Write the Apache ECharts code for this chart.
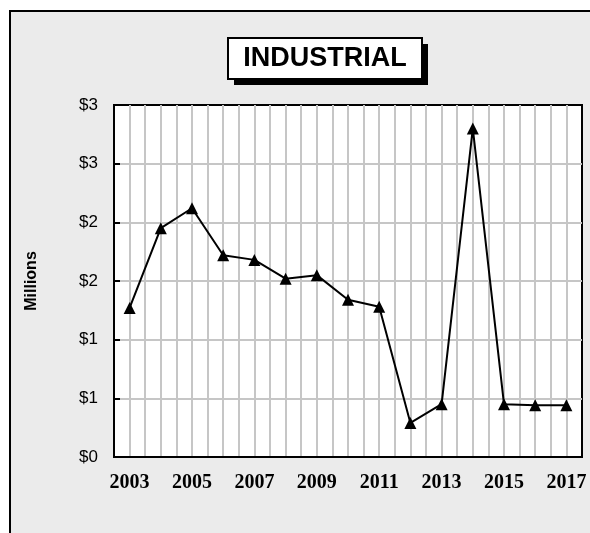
<!DOCTYPE html>
<html>
<head>
<meta charset="utf-8">
<script src="https://cdn.jsdelivr.net/npm/echarts@6/dist/echarts.min.js"></script>
<style>
  html, body { margin: 0; padding: 0; background: #fff; }
  #chart { width: 590px; height: 533px; }
</style>
</head>
<body>
<div id="chart"></div>
<script>
// values in millions of dollars
var years = ['2003', '2004', '2005', '2006', '2007', '2008', '2009', '2010',
  '2011', '2012', '2013', '2014', '2015', '2016', '2017'];
var industrial = [1.27, 1.95, 2.12, 1.72, 1.68, 1.52, 1.55, 1.34,
  1.28, 0.29, 0.45, 2.80, 0.45, 0.44, 0.44];
var yMin = 0;
var yMax = 3;
var yStep = 0.5;

var chart = echarts.init(document.getElementById('chart'));

var gridColor = '#c6c6c6';

var option = {
  backgroundColor: '#ffffff',
  animation: false,
  graphic: [
    {
      // outer panel
      type: 'rect',
      z: -10,
      shape: { x: 10, y: 11, width: 600, height: 540 },
      style: { fill: '#ebebeb', stroke: '#000', lineWidth: 2 }
    },
    {
      type: 'group',
      left: 227,
      top: 37,
      z: 100,
      children: [
        {
          type: 'rect',
          shape: { x: 6, y: 6, width: 194, height: 41 },
          style: { fill: '#000' }
        },
        {
          type: 'rect',
          shape: { x: 0, y: 0, width: 194, height: 41 },
          style: { fill: '#fff', stroke: '#000', lineWidth: 2 }
        },
        {
          type: 'text',
          x: 97,
          y: 21,
          style: {
            text: 'INDUSTRIAL',
            fill: '#000',
            font: 'bold 27px "Liberation Sans", Arial, sans-serif',
            align: 'center',
            verticalAlign: 'middle'
          }
        }
      ]
    }
  ],
  grid: {
    left: 114,
    top: 105,
    right: 8,
    bottom: 76,
    show: true,
    backgroundColor: '#fff',
    borderColor: '#000',
    borderWidth: 2
  },
  xAxis: [
    {
      type: 'category',
      data: years,
      boundaryGap: true,
      axisLine: { lineStyle: { color: '#000', width: 2 } },
      axisTick: {
        inside: true,
        alignWithLabel: true,
        length: 6,
        lineStyle: { color: '#000', width: 2 }
      },
      axisLabel: {
        interval: 1,
        margin: 16,
        color: '#000',
        fontFamily: '"Liberation Serif", "Times New Roman", serif',
        fontWeight: 'bold',
        fontSize: 20
      },
      splitLine: { show: false }
    },
    {
      // only for the vertical grid lines, every half year
      type: 'value',
      position: 'bottom',
      min: 2002.5,
      max: 2017.5,
      interval: 0.5,
      axisLine: { show: false },
      axisTick: { show: false },
      axisLabel: { show: false },
      splitLine: {
        show: true,
        showMinLine: false,
        showMaxLine: false,
        lineStyle: { color: gridColor, width: 2 }
      }
    }
  ],
  yAxis: {
    type: 'value',
    min: yMin,
    max: yMax,
    interval: yStep,
    name: 'Millions',
    nameLocation: 'middle',
    nameGap: 74,
    nameTextStyle: {
      color: '#000',
      fontFamily: '"Liberation Sans", Arial, sans-serif',
      fontWeight: 'bold',
      fontSize: 16
    },
    axisLine: { show: true, lineStyle: { color: '#000', width: 2 } },
    axisTick: {
      show: true,
      inside: true,
      length: 6,
      lineStyle: { color: '#000', width: 2 }
    },
    axisLabel: {
      margin: 16,
      color: '#000',
      fontFamily: '"Liberation Sans", Arial, sans-serif',
      fontSize: 17,
      formatter: function (v) {
        return '$' + Math.round(v);
      }
    },
    splitLine: {
      show: true,
      showMinLine: false,
      showMaxLine: false,
      lineStyle: { color: gridColor, width: 2 }
    }
  },
  series: [
    {
      name: 'Industrial',
      type: 'line',
      xAxisIndex: 0,
      data: industrial,
      symbol: 'triangle',
      symbolSize: 12,
      lineStyle: { color: '#000', width: 2 },
      itemStyle: { color: '#000' },
      z: 5
    }
  ]
};

chart.setOption(option);
</script>
</body>
</html>
